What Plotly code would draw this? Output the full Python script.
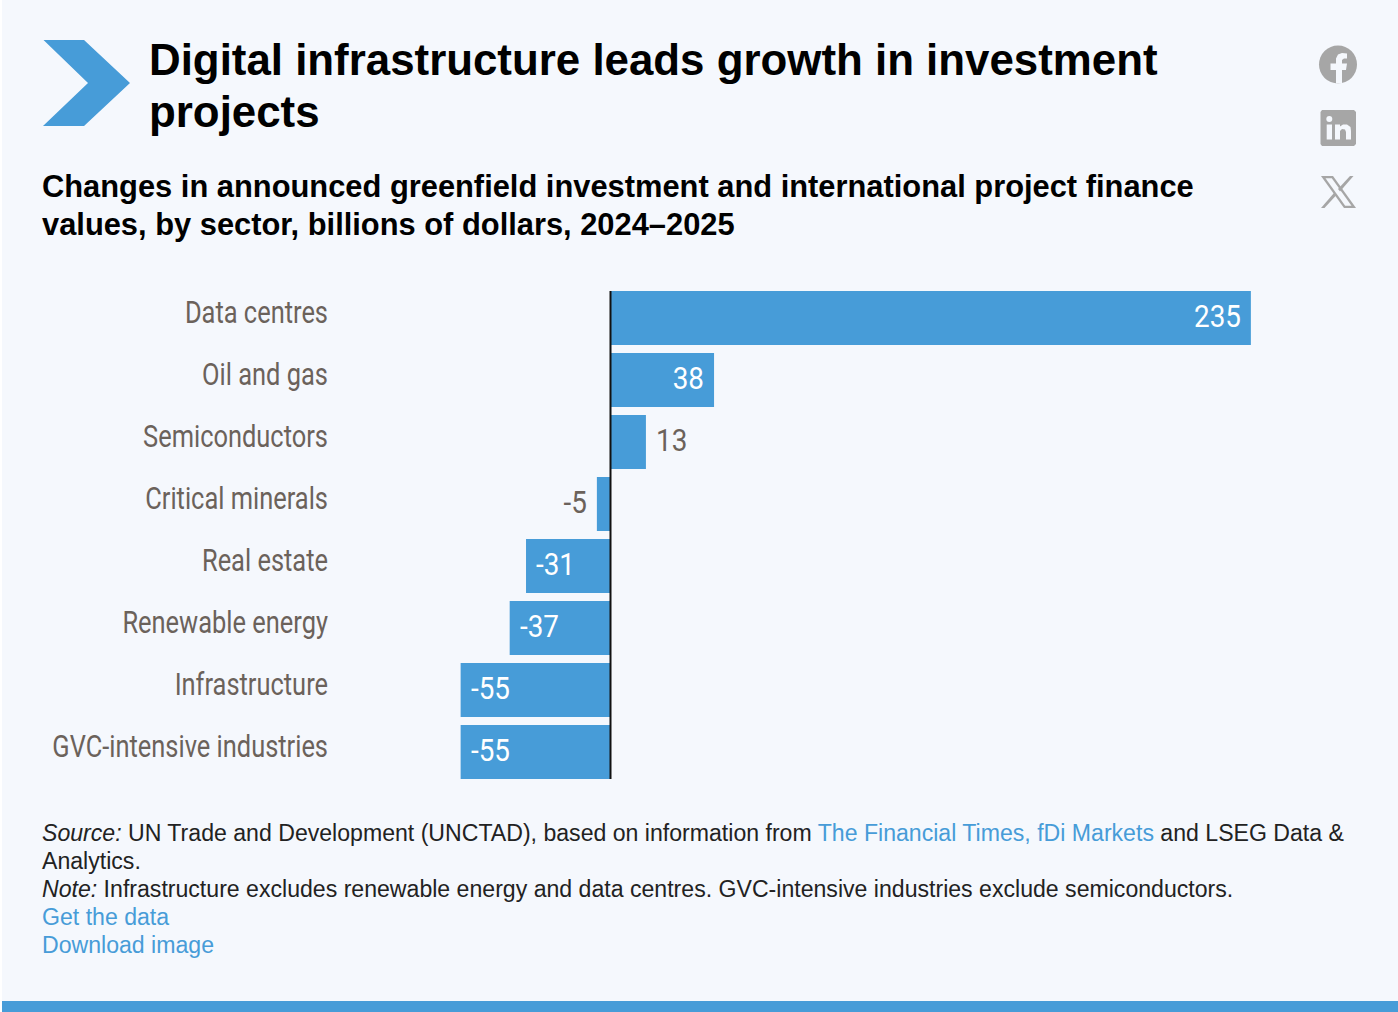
import plotly.graph_objects as go

categories = ["Data centres", "Oil and gas", "Semiconductors", "Critical minerals",
              "Real estate", "Renewable energy", "Infrastructure", "GVC-intensive industries"]
values = [235, 38, 13, -5, -31, -37, -55, -55]

W, H = 1398, 1012
BG = "#f5f8fd"
BLUE = "#479cd8"
GREY = "#a6a6a6"
LABEL = "#6b625b"
LINK = "#479cd8"
NARROW = "Roboto, sans-serif"
SANS = "Liberation Sans, Arial, sans-serif"


def px(x):
    return x / W


def py(y):
    return 1 - y / H


def poly(points, color):
    d = "M" + " L".join(f"{px(x):.5f},{py(y):.5f}" for x, y in points) + " Z"
    return dict(type="path", xref="paper", yref="paper", path=d,
                fillcolor=color, line=dict(width=0), layer="above")


def box(x0, y0, x1, y1, color, layer="above"):
    return dict(type="rect", xref="paper", yref="paper", x0=px(x0), x1=px(x1),
                y0=py(y0), y1=py(y1), fillcolor=color, line=dict(width=0), layer=layer)


def disc(cx, cy, r, color):
    return dict(type="circle", xref="paper", yref="paper", x0=px(cx - r), x1=px(cx + r),
                y0=py(cy + r), y1=py(cy - r), fillcolor=color, line=dict(width=0), layer="above")


fig = go.Figure()
# invisible trace that carries the category tick labels on their own axis
fig.add_trace(go.Bar(x=values, y=categories, orientation="h", yaxis="y", xaxis="x",
                     marker=dict(opacity=0), hoverinfo="skip", showlegend=False))
fig.add_trace(go.Bar(x=values, y=categories, orientation="h", yaxis="y2", xaxis="x",
                     marker=dict(color=BLUE, line=dict(width=0)), hoverinfo="skip", showlegend=False))

shapes = [
    box(2, 0, W, H, BG, "below"),
    box(2, 1001, W, H, BLUE, "below"),
    poly([(43.5, 40), (84, 40), (130, 83), (84, 126), (43, 126), (88, 83)], BLUE),
    # facebook
    disc(1338, 64.5, 19, GREY),
    poly([(1336, 83.5), (1336, 70), (1330.5, 70), (1330.5, 63.5), (1336, 63.5), (1336, 58.5),
          (1338, 54.5), (1342, 53), (1347, 53.5), (1347, 58.5), (1344, 58.5), (1342, 60),
          (1342, 63.5), (1347, 63.5), (1346, 70), (1342, 70), (1342, 83.5)], BG),
    # linkedin
    poly([(1322, 110), (1354, 110), (1356, 112), (1356, 144), (1354, 146), (1322, 146),
          (1320.5, 144), (1320.5, 112)], GREY),
    disc(1329.3, 119, 3, BG),
    box(1326.7, 124.5, 1332, 139.5, BG),
    poly([(1335, 124.5), (1340, 124.5), (1340, 126.5), (1343, 124.5), (1347, 124.5),
          (1350.5, 127), (1351, 131), (1351, 139.5), (1346, 139.5), (1346, 132), (1345, 129.5),
          (1342, 129), (1340, 131), (1340, 139.5), (1335, 139.5)], BG),
    # X
    poly([(1321, 176), (1333, 176), (1356, 208), (1344, 208)], GREY),
    poly([(1325.5, 178.2), (1331.8, 178.2), (1351.5, 205.8), (1345.2, 205.8)], BG),
    poly([(1350, 176), (1353.5, 176), (1340, 191.5), (1338, 189)], GREY),
    poly([(1334, 193), (1336, 195.5), (1324.5, 208), (1321, 208)], GREY),
    # zero line, above the bars
    dict(type="line", xref="x", x0=0, x1=0, yref="y2 domain", y0=0, y1=1,
         line=dict(color="#111111", width=2), layer="above"),
]


def note(x, y, text, size, color="#000000", family=SANS):
    return dict(xref="paper", yref="paper", x=px(x), y=py(y), text=text, showarrow=False,
                xanchor="left", yanchor="middle", align="left",
                font=dict(size=size, color=color, family=family), borderpad=0, borderwidth=0)


def link(t):
    return f'<span style="color:{LINK}">{t}</span>'


FOOT = 23.1
annotations = [
    note(149, 59.5, "<b>Digital infrastructure leads growth in investment</b>", 43.85),
    note(149, 111.5, "<b>projects</b>", 43.85),
    note(42, 186.3, "<b>Changes in announced greenfield investment and international project finance</b>", 30.85),
    note(42, 224.3, "<b>values, by sector, billions of dollars, 2024–2025</b>", 30.85),
    note(42, 832.5, "<i>Source:</i> UN Trade and Development (UNCTAD), based on information from "
         + link("The Financial Times, fDi Markets") + " and LSEG Data &amp;", FOOT, "#222222"),
    note(42, 860.5, "Analytics.", FOOT, "#222222"),
    note(42, 888.5, "<i>Note:</i> Infrastructure excludes renewable energy and data centres. "
         "GVC-intensive industries exclude semiconductors.", FOOT, "#222222"),
    note(42, 916.5, "Get the data", FOOT, LINK),
    note(42, 944.5, "Download image", FOOT, LINK),
]

for cat, v in zip(categories, values):
    inside = abs(v) >= 30
    positive = v > 0
    anchor_right = positive == inside
    annotations.append(dict(
        xref="x", yref="y2", x=v, y=cat, text=str(v), showarrow=False,
        xanchor="right" if anchor_right else "left", yanchor="middle",
        xshift=-10 if anchor_right else 10, yshift=2,
        font=dict(size=32, family=NARROW, color="#ffffff" if inside else LABEL),
        borderpad=0, borderwidth=0))

DOM0, DOM1 = 291, 779
LABEL_SHIFT = 6
yrange = [7.4355, -0.4355]
fig.update_layout(
    width=W, height=H, autosize=False,
    margin=dict(l=0, r=0, t=0, b=0, pad=0),
    paper_bgcolor="#ffffff", plot_bgcolor="rgba(0,0,0,0)",
    barmode="overlay", bargap=0.129, showlegend=False,
    xaxis=dict(domain=[px(300), px(1398)], range=[(300 - 610.5) / 2.725, (1398 - 610.5) / 2.725],
               visible=False, anchor="y2", automargin=False),
    yaxis=dict(domain=[py(DOM1 - LABEL_SHIFT), py(DOM0 - LABEL_SHIFT)], range=yrange,
               categoryorder="array", categoryarray=categories, type="category", automargin=False,
               anchor="free", position=px(328), side="left", showline=False, showgrid=False,
               zeroline=False, ticks="", tickfont=dict(size=32, family=NARROW, color=LABEL)),
    yaxis2=dict(domain=[py(DOM1), py(DOM0)], range=yrange, type="category",
                categoryorder="array", categoryarray=categories, automargin=False,
                anchor="x", visible=False),
    shapes=shapes, annotations=annotations,
)

# The reference uses a condensed face that is not installed: narrow the chart's real text.
post = """
document.body.style.margin='0';
document.documentElement.style.overflow='hidden';
function narrow(){
  var s=0.795, sv=0.87;
  document.querySelectorAll('.ytick text').forEach(function(t){
    if(t.dataset.nw||!t.getBBox().width)return; t.dataset.nw=1;
    var b=t.getBBox(), ax=b.x+b.width, old=t.getAttribute('transform')||'';
    t.setAttribute('transform','translate('+ax+',0) scale('+s+',1) translate('+(-ax)+',0) '+old);
  });
  document.querySelectorAll('.annotation-text').forEach(function(t){
    var v=parseFloat(t.textContent);
    if(t.dataset.nw||!/^-?[0-9]+$/.test(t.textContent.trim())||!t.getBBox().width)return; t.dataset.nw=1;
    var right=(v>0)===(Math.abs(v)>=30), b=t.getBBox(), ax=right?b.x+b.width:b.x, old=t.getAttribute('transform')||'';
    t.setAttribute('transform','translate('+ax+',0) scale('+sv+',1) translate('+(-ax)+',0) '+old);
  });
}
narrow(); setTimeout(narrow,50); setTimeout(narrow,300);
"""
fig.write_html("out.html", config={"displayModeBar": False, "responsive": False}, post_script=post)
